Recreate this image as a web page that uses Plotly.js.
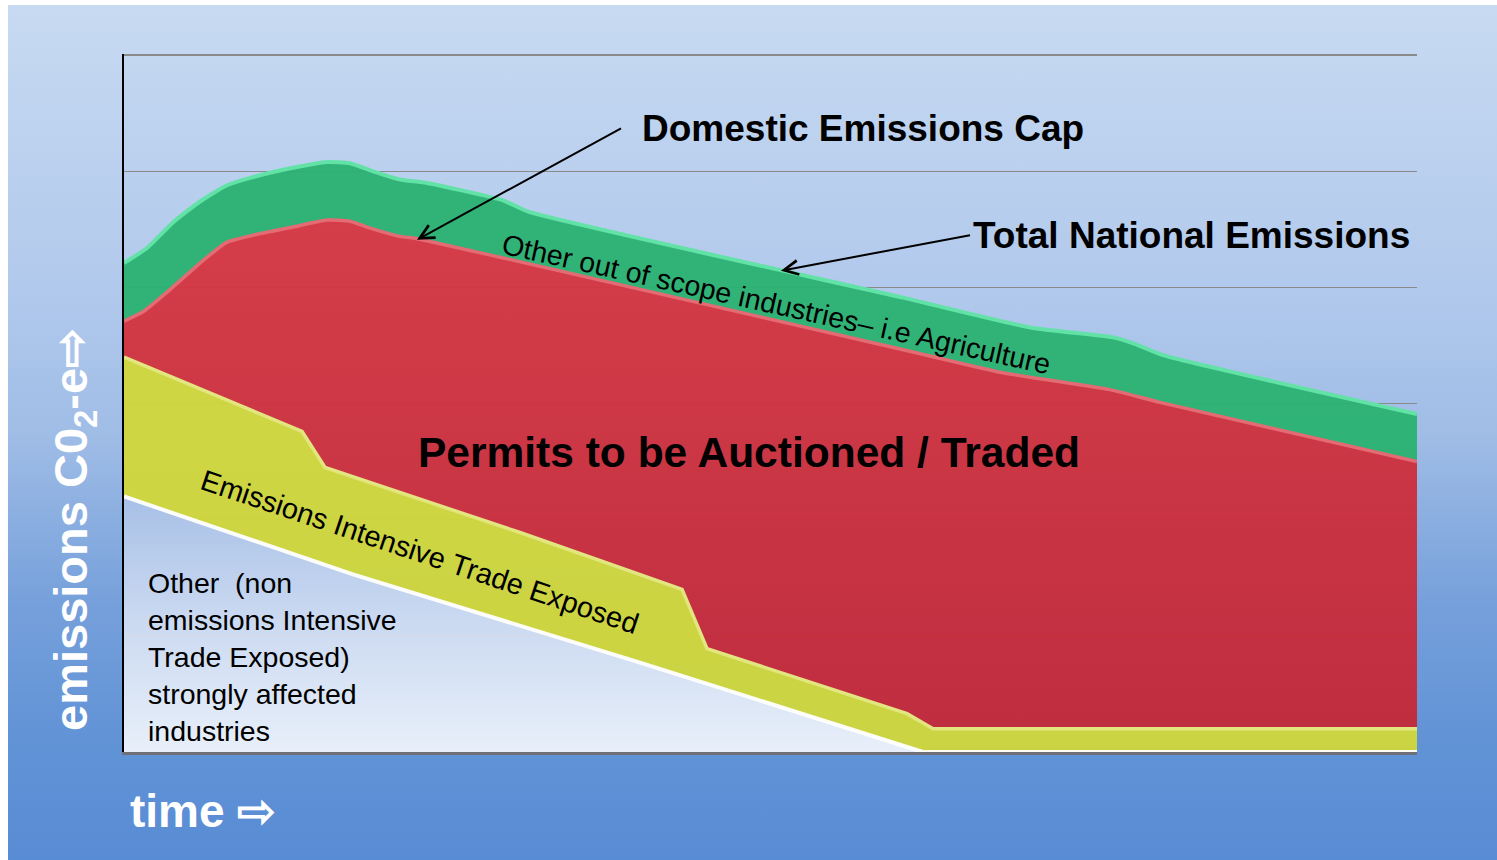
<!DOCTYPE html>
<html><head><meta charset="utf-8">
<script src="https://cdn.plot.ly/plotly-3.0.1.min.js"></script>
<style>
html,body{margin:0;padding:0;background:#ffffff;}
#bg{position:absolute;left:8px;top:5px;width:1489px;height:855px;
background:linear-gradient(to bottom, rgb(199,218,241) 0%, rgb(176,200,236) 35%, rgb(160,189,230) 50%, rgb(118,160,219) 70%, rgb(96,146,214) 87%, rgb(88,140,212) 100%);}
#chart{position:absolute;left:0;top:0;width:1497px;height:860px;}
</style></head>
<body><div id="bg"></div><div id="chart"></div>
<script>
// Time axis runs 0..100 (arbitrary units), emissions 0..6 (arbitrary units)
const totalX = [0, 1.78, 3.79, 5.88, 7.97, 9.98, 13.07, 15.70, 17.48, 19.26, 21.35, 23.43, 29.31, 31.32, 60.32, 70.30, 76.49, 78.27, 80.28, 100];
const totalY = [4.21, 4.34, 4.56, 4.74, 4.88, 4.95, 5.03, 5.08, 5.07, 5.00, 4.93, 4.90, 4.75, 4.65, 3.91, 3.65, 3.57, 3.51, 3.42, 2.91];

const capX = [0, 1.47, 3.33, 5.88, 7.97, 9.98, 13.07, 15.70, 17.48, 18.79, 21.35, 22.66, 29.08, 60.02, 67.75, 76.26, 80.12, 100];
const capY = [3.71, 3.79, 3.96, 4.21, 4.39, 4.45, 4.52, 4.58, 4.57, 4.52, 4.44, 4.42, 4.26, 3.47, 3.27, 3.12, 3.01, 2.50];

const eiteX = [0, 13.07, 13.77, 15.55, 30.63, 43.16, 45.09, 60.56, 62.57, 100];
const eiteY = [3.40, 2.79, 2.76, 2.45, 1.89, 1.40, 0.89, 0.33, 0.20, 0.20];

const otherX = [0, 17.71, 39.91, 55.38, 61.79, 100];
const otherY = [2.20, 1.53, 0.77, 0.22, 0, 0];

const FONT = 'Liberation Sans, Arial, sans-serif';

const traces = [
  {name:'Other (non EITE) strongly affected industries', x:otherX, y:otherY, mode:'lines', fill:'tozeroy',
   line:{color:'rgba(255,255,255,0.95)', width:4},
   fillgradient:{type:'vertical', colorscale:[[0,'rgba(242,246,252,0.93)'],[0.55,'rgba(207,220,242,0.93)'],[1,'rgba(169,193,231,0.93)']]},
   hoverinfo:'skip'},
  {name:'Emissions Intensive Trade Exposed', x:eiteX, y:eiteY, mode:'lines', fill:'tonexty',
   line:{color:'#e3e67e', width:3.5}, fillcolor:'rgba(209,215,58,0.95)', hoverinfo:'skip'},
  {name:'Domestic Emissions Cap', x:capX, y:capY, mode:'lines', fill:'tonexty',
   line:{color:'#e46a74', width:3.5, shape:'spline', smoothing:0.5},
   fillgradient:{type:'vertical', colorscale:[[0,'rgba(196,40,56,0.95)'],[1,'rgba(214,54,64,0.95)']]},
   hoverinfo:'skip'},
  {name:'Total National Emissions', x:totalX, y:totalY, mode:'lines', fill:'tonexty',
   line:{color:'#62e2a6', width:4, shape:'spline', smoothing:0.5},
   fillcolor:'rgba(44,178,114,0.96)', hoverinfo:'skip'}
];

const annotations = [
  {xref:'x', yref:'y', x:22.66, y:4.411, axref:'x', ayref:'y', ax:38.44, ay:5.37,
   text:'<b>Domestic Emissions Cap</b>', font:{family:FONT, size:37, color:'#000'},
   xanchor:'left', yanchor:'middle', borderpad:20,
   showarrow:true, arrowhead:5, arrowsize:1.4, arrowwidth:2, arrowcolor:'#000'},
  {xref:'x', yref:'y', x:50.81, y:4.144, axref:'x', ayref:'y', ax:65.43, ay:4.45,
   text:'<b>Total National Emissions</b>', font:{family:FONT, size:37, color:'#000'},
   xanchor:'left', yanchor:'middle', borderpad:2,
   showarrow:true, arrowhead:5, arrowsize:1.4, arrowwidth:2, arrowcolor:'#000'},
  {xref:'x', yref:'y', x:50.43, y:3.86, text:'Other out of scope industries– i.e Agriculture', showarrow:false,
   textangle:12.5, font:{family:FONT, size:28.5, color:'#000'}, xanchor:'center', yanchor:'middle'},
  {xref:'x', yref:'y', x:48.3, y:2.58, text:'<b>Permits to be Auctioned / Traded</b>', showarrow:false,
   font:{family:FONT, size:42.5, color:'#000'}, xanchor:'center', yanchor:'middle'},
  {xref:'x', yref:'y', x:22.89, y:1.72, text:'Emissions Intensive Trade Exposed', showarrow:false,
   textangle:18.5, font:{family:FONT, size:29, color:'#000'}, xanchor:'center', yanchor:'middle'},
  {xref:'x', yref:'y', x:1.7, y:0.82, xanchor:'left', yanchor:'middle', align:'left', showarrow:false,
   text:'Other \u00a0(non<br>emissions Intensive<br>Trade Exposed)<br>strongly affected<br>industries',
   font:{family:FONT, size:28.5, color:'#000'}},
  {xref:'paper', yref:'paper', x:0.003, y:-0.085, xanchor:'left', yanchor:'middle', showarrow:false,
   text:'<b>time ⇨</b>', font:{family:FONT, size:46, color:'#ffffff'}},
  {xref:'paper', yref:'paper', x:-0.0387, y:0.318, xanchor:'center', yanchor:'middle', showarrow:false,
   textangle:-90, text:'<b>emissions C0<sub>2</sub>-e⇨</b>', font:{family:FONT, size:47, color:'#ffffff'}}
];

const layout = {
  width:1497, height:860,
  margin:{l:124, r:80, t:54, b:108},
  paper_bgcolor:'rgba(0,0,0,0)', plot_bgcolor:'rgba(0,0,0,0)',
  showlegend:false,
  font:{family:FONT},
  xaxis:{range:[0,100], showgrid:false, zeroline:false, showticklabels:false, ticks:'',
         showline:true, linecolor:'#6f6f78', linewidth:2.5, fixedrange:true},
  yaxis:{range:[0,6.01], dtick:1, tick0:0, showgrid:true, gridcolor:'#8a8a8a', gridwidth:1.5,
         zeroline:false, showticklabels:false, ticks:'', showline:true, linecolor:'#000', linewidth:2.5,
         fixedrange:true},
  annotations:annotations
};

Plotly.newPlot('chart', traces, layout, {displayModeBar:false, staticPlot:true});
</script>
</body></html>
